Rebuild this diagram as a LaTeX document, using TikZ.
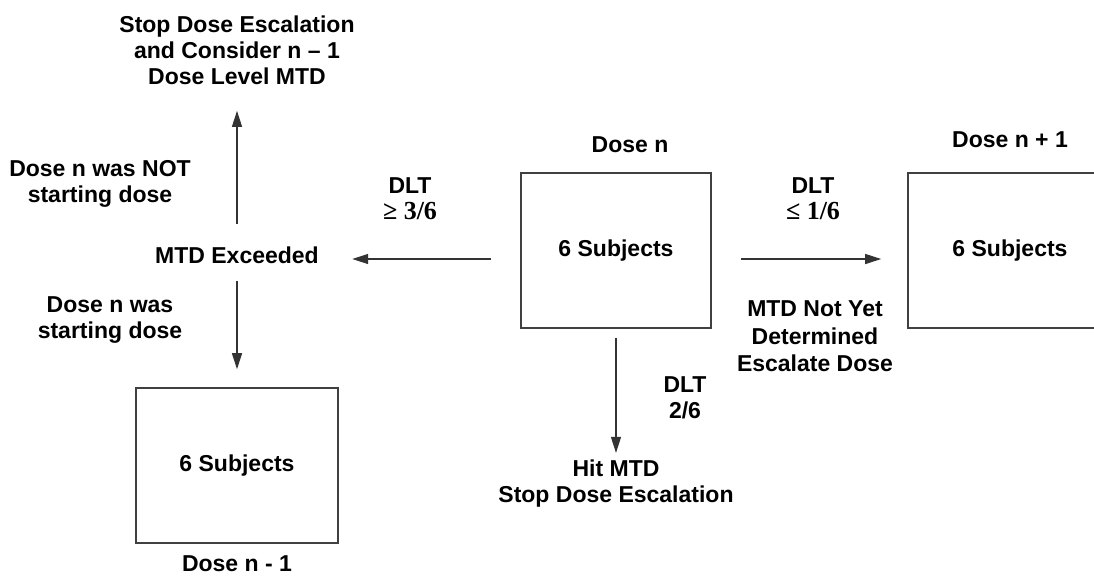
\documentclass[tikz,border=0pt]{standalone}
\usepackage{fontspec}
\setmainfont{Liberation Sans}
\newfontfamily\serif{Liberation Serif}
\usetikzlibrary{arrows.meta}
\tikzstyle{box} = [rectangle, minimum width = 95pt, minimum height = 77.5pt, text centered, draw = black!75, line width = 0.8pt, font = \fontsize{11.5}{13}\selectfont\bfseries]
\tikzstyle{txt} = [inner sep = 0pt, align = center, font = \fontsize{11.5}{13}\selectfont\bfseries]
\tikzstyle{arrow} = [->, >={Triangle[length = 8pt, width = 5pt]}, draw = black!80, line width = 0.6pt]

\begin{document}
\begin{tikzpicture}[x = 0.5pt, y = -0.5pt]
    \useasboundingbox (0,0) rectangle (1094,586);
    % boxes
    \node(box1)[box] at (616,250.5){6 Subjects};
    \node(box2)[box, minimum width = 102pt] at (1010,250.5){6 Subjects};
    \node(box3)[box, minimum width = 101pt] at (237,465.5){6 Subjects};

    % texts
    \node(dose1)[txt] at (630,144.5){Dose n};
    \node(dose2)[txt] at (1010,139.5){Dose n + 1};
    \node(dose3)[txt] at (237,564){Dose n - 1};
    \node(stop1)[txt] at (237,50){Stop Dose Escalation\\and Consider n -- 1\\Dose Level MTD};
    \node(exceeded)[txt] at (237,255){MTD Exceeded};
    \node(notstart)[txt] at (100,184){Dose n was NOT\\starting dose};
    \node(wasstart)[txt] at (110,320){Dose n was\\starting dose};
    \node(dlt1)[txt] at (410,199){DLT\\{\serif\fontsize{13}{14}\selectfont ≥ 3/6}};
    \node(dlt2)[txt] at (813,199){DLT\\{\serif\fontsize{13}{14}\selectfont ≤ 1/6}};
    \node(dlt3)[txt] at (685,398){DLT\\2/6};
    \node(escalate)[txt, font = \fontsize{11.5}{13.7}\selectfont\bfseries] at (815,336.5){MTD Not Yet\\Determined\\Escalate Dose};
    \node(hit)[txt] at (616,484){Hit MTD\\Stop Dose Escalation};

    \draw[arrow]([xshift = -14.5pt, yshift = -4.25pt]box1.west) -- ([xshift = 16.5pt, yshift = -2pt]exceeded.east);
    \draw[arrow]([xshift = 14.5pt, yshift = -4.25pt]box1.east) -- ([xshift = -13pt, yshift = -4.25pt]box2.west);
    \draw[arrow, shorten <= 4.5pt, shorten >= 3.5pt](box1) -- (box1 |- hit.north);
    \draw[arrow, shorten <= 11pt, shorten >= 13pt](exceeded) -- (exceeded |- stop1.south);
    \draw[arrow, shorten <= 8.5pt, shorten >= 9pt](exceeded) -- (box3);
\end{tikzpicture}
\end{document}
